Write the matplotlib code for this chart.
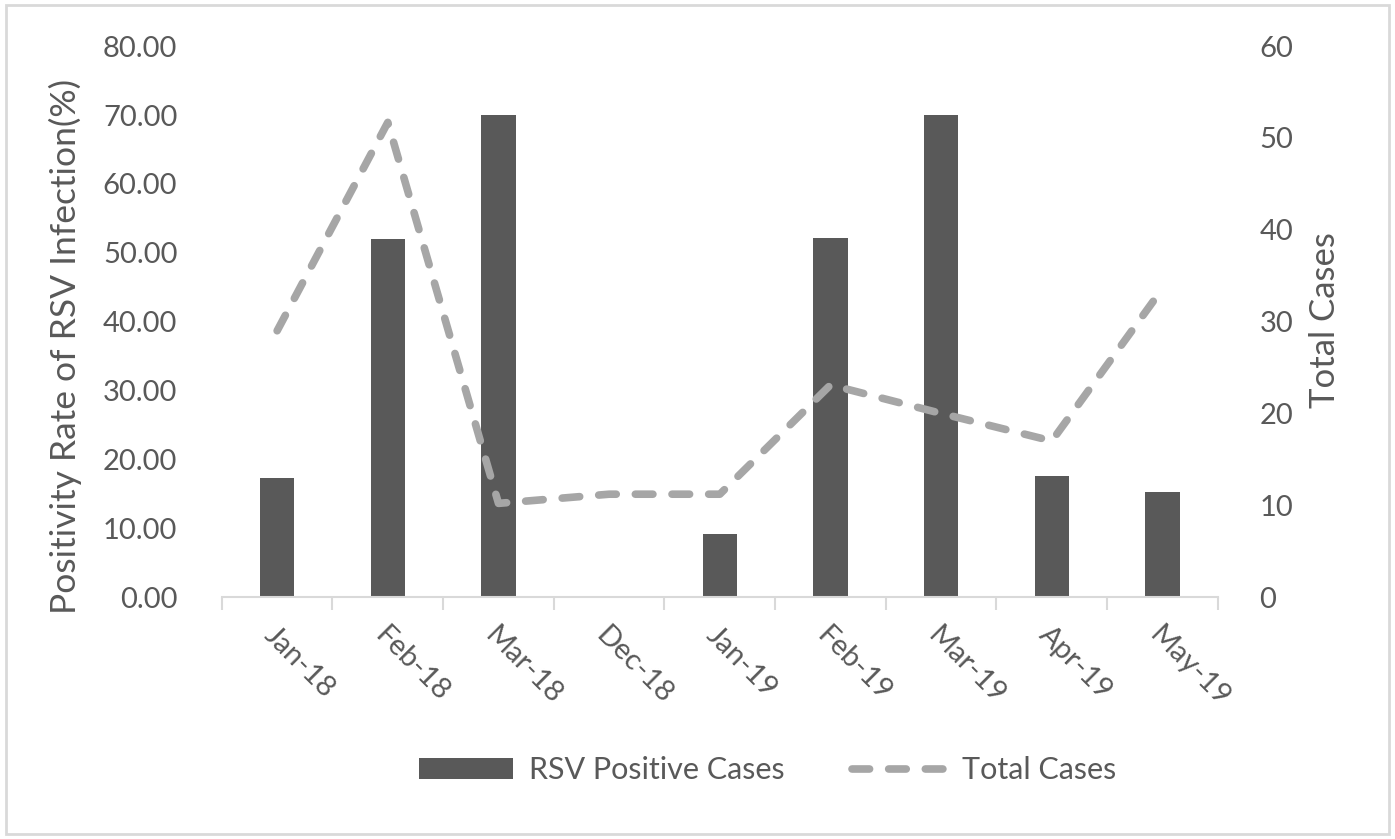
import matplotlib.pyplot as plt
import numpy as np
from matplotlib.patches import Rectangle

plt.rcParams['font.family'] = ['Lato', 'DejaVu Sans']

# Datos
meses = ['Jan-18', 'Feb-18', 'Mar-18', 'Dec-18', 'Jan-19', 'Feb-19', 'Mar-19', 'Apr-19', 'May-19']
positividad = [17.3, 52.0, 70.0, 0.0, 9.2, 52.2, 70.0, 17.6, 15.3]
casos_totales = [29, 51.7, 10.2, 11.2, 11.2, 23.1, 20.0, 17.0, 33.6]

gris_barra = '#595959'
gris_linea = '#A6A6A6'
gris_texto = '#595959'

fig = plt.figure(figsize=(13.95, 8.39), dpi=100)
ax = fig.add_axes([0.159, 0.2884, 0.714, 0.6566])
ax2 = ax.twinx()

x = np.arange(len(meses))
barras = ax.bar(x, positividad, width=0.31, color=gris_barra, label='RSV Positive Cases', zorder=2)
linea, = ax2.plot(x, casos_totales, color=gris_linea, linewidth=5.5, linestyle=(0, (2.3, 2.5)),
                  dash_capstyle='round', label='Total Cases', zorder=3)

ax.set_xlim(-0.5, len(meses) - 0.5)
ax.set_ylim(0, 80)
ax2.set_ylim(0, 60)
ax.set_yticks(np.arange(0, 81, 10))
ax.set_yticklabels([f'{v:.2f}' for v in np.arange(0, 81, 10)])
ax2.set_yticks(np.arange(0, 61, 10))

# Ejes y bordes estilo Excel
for a in (ax, ax2):
    for s in ['top', 'left', 'right']:
        a.spines[s].set_visible(False)
ax.spines['bottom'].set_color('#D9D9D9')
ax.spines['bottom'].set_linewidth(1.5)
ax2.spines['bottom'].set_visible(False)

ax.set_xticks(x)
ax.set_xticklabels(meses, rotation=-45, ha='left', va='top', rotation_mode='anchor')
ax.set_xticks(np.arange(-0.5, len(meses)), minor=True)
ax.tick_params(axis='x', which='major', length=0, pad=18, labelsize=21, labelcolor=gris_texto)
ax.tick_params(axis='x', which='minor', length=9, width=1.5, color='#D9D9D9')
ax.tick_params(axis='y', length=0, pad=32, labelsize=21, labelcolor=gris_texto)
ax2.tick_params(axis='y', length=0, pad=30, labelsize=21, labelcolor=gris_texto)

ax.set_ylabel('Positivity Rate of RSV Infection(%)', fontsize=25.5, color=gris_texto)
ax.yaxis.set_label_coords(-0.14, 0.455)
ax2.set_ylabel('Total Cases', fontsize=25, color=gris_texto)
ax2.yaxis.set_label_coords(1.092, 0.503)

fig.legend(handles=[barras, linea], loc='center', bbox_to_anchor=(0.55, 0.082), ncol=2,
           frameon=False, fontsize=22, labelcolor=gris_texto, handlelength=3.1,
           columnspacing=2.2, handletextpad=0.5)

# Borde exterior
fig.patches.append(Rectangle((0.004, 0.006), 0.992, 0.988, transform=fig.transFigure,
                             fill=False, edgecolor='#D9D9D9', linewidth=2))

plt.savefig('out.png', dpi=100)
plt.close()
